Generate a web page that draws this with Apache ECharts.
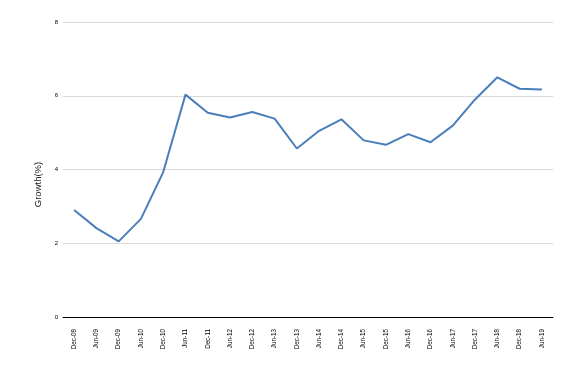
<!DOCTYPE html>
<html><head><meta charset="utf-8">
<script src="https://cdn.jsdelivr.net/npm/echarts@6/dist/echarts.min.js"></script>
<style>html,body{margin:0;padding:0;background:#fff}#c{width:572px;height:369px}</style>
</head><body><div id="c"></div>
<script>
const categories = ["Dec-08","Jun-09","Dec-09","Jun-10","Dec-10","Jun-11","Dec-11","Jun-12","Dec-12","Jun-13","Dec-13","Jun-14","Dec-14","Jun-15","Dec-15","Jun-16","Dec-16","Jun-17","Dec-17","Jun-18","Dec-18","Jun-19"];
const growth = [2.90,2.41,2.05,2.66,3.93,6.03,5.54,5.41,5.56,5.38,4.57,5.05,5.36,4.79,4.67,4.96,4.74,5.19,5.90,6.50,6.19,6.17];
const yTicks = [0,2,4,6,8];
const chart = echarts.init(document.getElementById('c'));
chart.setOption({
  animation:false,
  grid:{left:63,right:19,top:22,bottom:52,containLabel:false},
  xAxis:{type:'category',data:categories,boundaryGap:true,
    axisLine:{lineStyle:{color:'#000',width:1}},
    axisTick:{alignWithLabel:true,length:5,lineStyle:{color:'#000'}},
    axisLabel:{rotate:90,fontSize:6.3,color:'#000',fontFamily:'Liberation Sans',margin:12,interval:0}},
  yAxis:{type:'value',min:yTicks[0],max:yTicks[yTicks.length-1],interval:2,
    name:'Growth(%)',nameLocation:'middle',nameGap:19,
    nameTextStyle:{fontSize:9.5,color:'#222',fontFamily:'Liberation Sans',padding:[0,30,0,0]},
    axisLine:{show:false},axisTick:{show:false},
    axisLabel:{fontSize:6,color:'#000',fontFamily:'Liberation Sans',margin:5},
    splitLine:{lineStyle:{color:'#d9d9d9',width:1.2}}},
  series:[{type:'line',data:growth,symbol:'none',lineStyle:{color:'#4a7ebb',width:2}}]
});
</script></body></html>
